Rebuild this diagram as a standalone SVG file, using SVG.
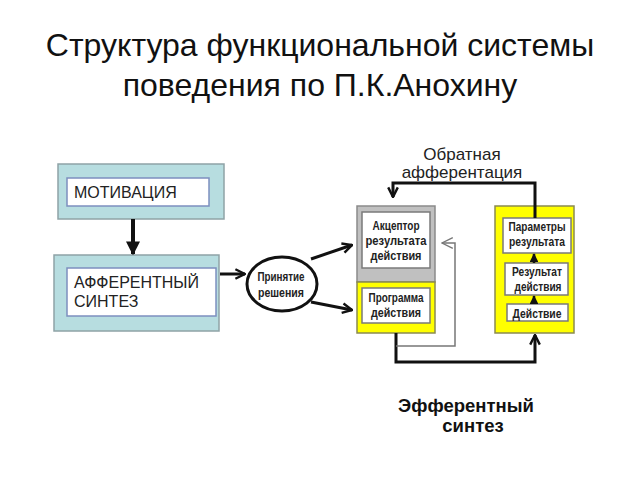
<svg xmlns="http://www.w3.org/2000/svg" width="640" height="480" viewBox="0 0 640 480">
<defs>
<style>
.title{font-family:"Liberation Sans",Arial,sans-serif;font-size:32px;fill:#111;text-anchor:middle}
.cyan{fill:#b7dde0;stroke:#8fa3a6;stroke-width:1.5}
.inw{fill:#fff;stroke:#7d8fbf;stroke-width:1.5}
.lbl{font-family:"Liberation Sans",Arial,sans-serif;font-size:16px;fill:#222}
.nar{font-family:"Liberation Sans",Arial,sans-serif;font-weight:bold;font-size:13.5px;fill:#222;text-anchor:middle}
.yel{fill:#ffff00;stroke:#8a8a50;stroke-width:1.5}
.gry{fill:#c0c0c0;stroke:#8a8a8a;stroke-width:1.5}
.wb{fill:#fff;stroke:#7a7a7a;stroke-width:1.5}
.blk{fill:none;stroke:#111;stroke-width:3}
.thin{fill:none;stroke:#777;stroke-width:1.5}
.fb{font-family:"Liberation Sans",Arial,sans-serif;font-size:17px;fill:#222;text-anchor:middle}
.ef{font-family:"Liberation Sans",Arial,sans-serif;font-weight:bold;font-size:18.5px;fill:#111;text-anchor:middle}
</style>
<marker id="ch" viewBox="0 0 10 10" refX="9" refY="5" markerWidth="4" markerHeight="4" orient="auto" markerUnits="strokeWidth">
<path d="M1,1 L9,5 L1,9" fill="none" stroke="#111" stroke-width="2"/>
</marker>
<marker id="cht" viewBox="0 0 10 10" refX="9" refY="5" markerWidth="9" markerHeight="9" orient="auto" markerUnits="strokeWidth">
<path d="M1,1 L9,5 L1,9" fill="none" stroke="#777" stroke-width="1"/>
</marker>
<marker id="tri" viewBox="0 0 10 10" refX="9" refY="5" markerWidth="3.5" markerHeight="3.5" orient="auto" markerUnits="strokeWidth">
<path d="M0,0 L10,5 L0,10 Z" fill="#111"/>
</marker>
</defs>
<rect width="640" height="480" fill="#fff"/>
<g id="title">
<text class="title" x="320" y="56">Структура функциональной системы</text>
<text class="title" x="320" y="96">поведения по П.К.Анохину</text>
</g>
<g id="motivation">
<rect class="cyan" x="58" y="164" width="166" height="55"/>
<rect class="inw" x="67" y="178" width="142" height="28"/>
<text class="lbl" x="74" y="198">МОТИВАЦИЯ</text>
</g>
<g id="afferent">
<rect class="cyan" x="54" y="255" width="165" height="76"/>
<rect class="inw" x="67" y="268" width="149" height="48"/>
<text class="lbl" x="74" y="288">АФФЕРЕНТНЫЙ</text>
<text class="lbl" x="74" y="307">СИНТЕЗ</text>
</g>
<g id="decision">
<ellipse cx="282" cy="284" rx="35" ry="27" fill="#fff" stroke="#111" stroke-width="3"/>
<text class="nar" x="281" y="281" textLength="47" lengthAdjust="spacingAndGlyphs">Принятие</text>
<text class="nar" x="281" y="297" textLength="46" lengthAdjust="spacingAndGlyphs">решения</text>
</g>
<g id="acceptor">
<rect class="gry" x="357" y="206" width="78" height="76"/>
<rect class="wb" x="362" y="212" width="68" height="56"/>
<text class="nar" x="396" y="230" textLength="47" lengthAdjust="spacingAndGlyphs">Акцептор</text>
<text class="nar" x="396" y="245" textLength="61" lengthAdjust="spacingAndGlyphs">результата</text>
<text class="nar" x="396" y="260" textLength="51" lengthAdjust="spacingAndGlyphs">действия</text>
</g>
<g id="program">
<rect class="yel" x="357" y="282" width="78" height="51"/>
<rect class="wb" x="362" y="288" width="68" height="35" stroke="#555"/>
<text class="nar" x="396" y="302" textLength="55" lengthAdjust="spacingAndGlyphs">Программа</text>
<text class="nar" x="396" y="317" textLength="50" lengthAdjust="spacingAndGlyphs">действия</text>
</g>
<g id="result-block">
<rect class="yel" x="495" y="206" width="79" height="127"/>
</g>
<g id="parameters">
<rect class="wb" x="503" y="218" width="68" height="35"/>
<text class="nar" x="537" y="231" textLength="57" lengthAdjust="spacingAndGlyphs">Параметры</text>
<text class="nar" x="537" y="246" textLength="56" lengthAdjust="spacingAndGlyphs">результата</text>
</g>
<g id="result">
<rect class="wb" x="505" y="263" width="63" height="32"/>
<text class="nar" x="537" y="276" textLength="50" lengthAdjust="spacingAndGlyphs">Результат</text>
<text class="nar" x="538" y="291" textLength="47" lengthAdjust="spacingAndGlyphs">действия</text>
</g>
<g id="action">
<rect class="wb" x="507" y="304" width="61" height="17"/>
<text class="nar" x="537" y="318" textLength="49" lengthAdjust="spacingAndGlyphs">Действие</text>
</g>
<g id="labels">
<text class="fb" x="462" y="160">Обратная</text>
<text class="fb" x="462" y="178">афферентация</text>
<text class="ef" x="466" y="412">Эфферентный</text>
<text class="ef" x="473" y="432">синтез</text>
</g>
<g id="connectors">
<line x1="133" y1="219" x2="133" y2="254" stroke="#111" stroke-width="4" marker-end="url(#tri)"/>
<line x1="220" y1="274" x2="245" y2="274" class="blk" stroke-width="2.5" marker-end="url(#ch)"/>
<path class="blk" d="M311,259 L352,245" marker-end="url(#ch)"/>
<path class="blk" d="M311,302 L352,310" marker-end="url(#ch)"/>
<path class="blk" d="M535,218 L535,183 L393,183 L393,197" marker-end="url(#ch)"/>
<path class="blk" d="M396,333 L396,362 L535,362 L535,335" marker-end="url(#ch)"/>
<path class="thin" d="M396,346 L455,346 L455,243 L442,243" marker-end="url(#cht)"/>
<line x1="534" y1="263" x2="534" y2="254" stroke="#111" stroke-width="2.5" marker-end="url(#tri)"/>
<line x1="534" y1="304" x2="534" y2="296" stroke="#111" stroke-width="2.5" marker-end="url(#tri)"/>
</g>
</svg>
